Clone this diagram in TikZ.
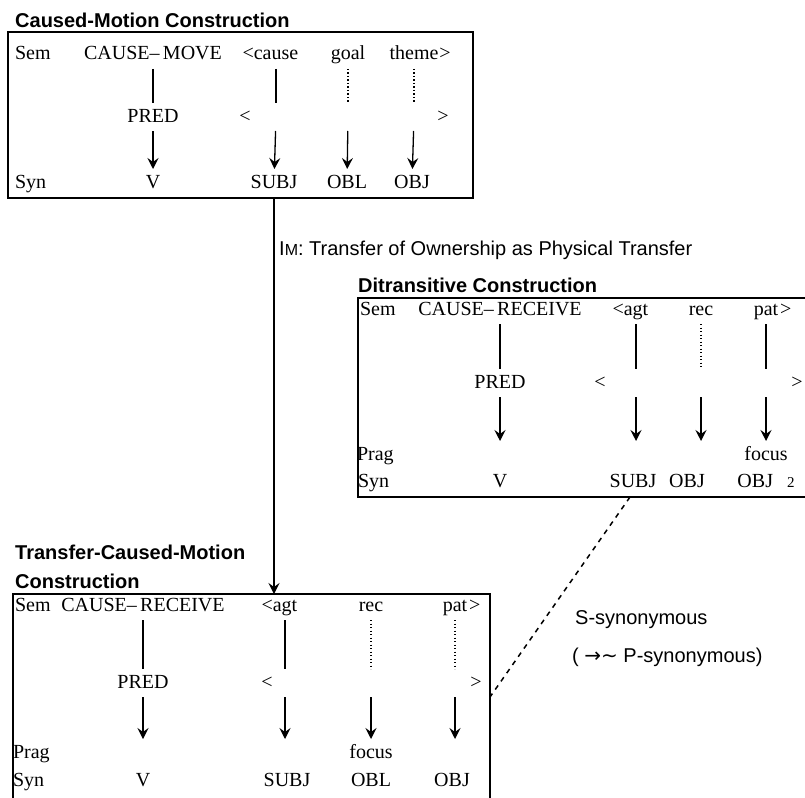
\documentclass[tikz,border=0pt]{standalone}
\usepackage{fontspec}
\setmainfont{Liberation Serif}
\setsansfont{Liberation Sans}
\newfontfamily\symfont{DejaVu Sans}
\usetikzlibrary{positioning, arrows.meta, calc}
\newcommand\rowsize{\fontsize{20}{24}\selectfont}
\newcommand\labsize{\fontsize{20}{24}\selectfont}
\tikzset{
  frame/.style={draw, line width=1.6pt, inner sep=0pt, outer sep=0pt, anchor=north west},
  cell/.style={font=\rowsize, inner sep=0pt, outer sep=5pt, text height=14pt, text depth=4pt},
  tag/.style={cell, anchor=west},
  title/.style={font=\labsize\sffamily\bfseries, inner sep=0pt, anchor=west},
  note/.style={font=\labsize\sffamily, inner sep=0pt, anchor=west},
  link/.style={line width=1.3pt},
  dotlink/.style={line width=1.3pt, dash pattern=on 1.3pt off 2.2pt},
  map/.style={line width=1.3pt, -{Stealth[length=11pt,width=11pt,inset=4pt]}},
  synlink/.style={line width=1.5pt, dash pattern=on 5pt off 5pt},
}
\begin{document}
\begin{tikzpicture}[x=1pt, y=-1pt]
\useasboundingbox (0,0) rectangle (805,797);
% Caused-Motion Construction
\node[title] (cm-title) at (15,20) {Caused-Motion Construction};
\node[frame, minimum width=465pt, minimum height=166pt] (cm) at (8,32) {};
\node[tag] (cm-sem) at (10,55) {Sem};
\node[cell] (cm-s0) at (153,55) {CAUSE–\,MOVE};
\node[cell] (cm-s1) at (276,55) {\llap{<}cause};
\node[cell] (cm-s2) at (348,55) {goal};
\node[cell] (cm-s3) at (414,55) {theme\rlap{\kern1pt>}};
\node[cell] (cm-p0) at (153,117) {PRED};
\node[cell] (cm-lt) at (245,117) {<};
\node[cell] (cm-gt) at (443,117) {>};
\foreach \i/\x in {1/276, 2/348, 3/414}
  \node[cell] (cm-p\i) at (\x,117) {};
\node[tag] (cm-syn) at (10,183) {Syn};
\node[cell] (cm-y0) at (153,183) {V};
\node[cell] (cm-y1) at (274,183) {SUBJ};
\node[cell] (cm-y2) at (347,183) {OBL};
\node[cell] (cm-y3) at (412,183) {OBJ};
\foreach \i in {0,1} \draw[link] (cm-s\i) -- (cm-p\i);
\foreach \i in {2,3} \draw[dotlink] (cm-s\i) -- (cm-p\i);
\foreach \i in {0,...,3} \draw[map] (cm-p\i) -- (cm-y\i);

% Ditransitive Construction
\node[note] (im) at (279,250) {I{\fontsize{16}{18}\selectfont M}: Transfer of Ownership as Physical Transfer};
\node[title] (dt-title) at (358,285) {Ditransitive Construction};
\node[frame, minimum width=470pt, minimum height=199pt] (dt) at (358,298) {};
\node[tag] (dt-sem) at (355,310) {Sem};
\node[cell] (dt-s0) at (500,310) {CAUSE–\,RECEIVE};
\node[cell] (dt-s1) at (636,310) {\llap{<}agt};
\node[cell] (dt-s2) at (701,310) {rec};
\node[cell] (dt-s3) at (766,310) {pat\rlap{\kern2pt>}};
\node[cell] (dt-p0) at (500,383) {PRED};
\node[cell] (dt-lt) at (600,383) {<};
\node[cell] (dt-gt) at (797,383) {>};
\foreach \i/\x in {1/636, 2/701, 3/766}
  \node[cell] (dt-p\i) at (\x,383) {};
\node[tag] (dt-prag) at (352,455) {Prag};
\foreach \i/\x in {0/500, 1/636, 2/701}
  \node[cell] (dt-g\i) at (\x,455) {};
\node[cell] (dt-g3) at (766,455) {focus};
\node[tag] (dt-syn) at (353,482) {Syn};
\node[cell] (dt-y0) at (500,482) {V};
\node[cell] (dt-y1) at (633,482) {SUBJ};
\node[cell] (dt-y2) at (687,482) {OBJ};
\node[cell] (dt-y3) at (766,482) {OBJ\hspace{14pt}{\fontsize{15}{18}\selectfont 2}};
\foreach \i in {0,1,3} \draw[link] (dt-s\i) -- (dt-p\i);
\draw[dotlink] (dt-s2) -- (dt-p2);
\foreach \i in {0,...,3} \draw[map] (dt-p\i) -- (dt-g\i);

% Transfer-Caused-Motion Construction
\node[title] (tc-title) at (15,552) {Transfer-Caused-Motion};
\node[title] (tc-title2) at (15,581) {Construction};
\node[frame, minimum width=477pt, minimum height=220pt] (tc) at (13,594) {};
\node[tag] (tc-sem) at (10,606) {Sem};
\node[cell] (tc-s0) at (143,606) {CAUSE–\,RECEIVE};
\node[cell] (tc-s1) at (285,606) {\llap{<}agt};
\node[cell] (tc-s2) at (371,606) {rec};
\node[cell] (tc-s3) at (455,606) {pat\rlap{\kern2pt>}};
\node[cell] (tc-p0) at (143,683) {PRED};
\node[cell] (tc-lt) at (267,683) {<};
\node[cell] (tc-gt) at (476,683) {>};
\foreach \i/\x in {1/285, 2/371, 3/455}
  \node[cell] (tc-p\i) at (\x,683) {};
\node[tag] (tc-prag) at (8,753) {Prag};
\foreach \i/\x in {0/143, 1/285, 3/455}
  \node[cell] (tc-g\i) at (\x,753) {};
\node[cell] (tc-g2) at (371,753) {focus};
\node[tag] (tc-syn) at (8,781) {Syn};
\node[cell] (tc-y0) at (143,781) {V};
\node[cell] (tc-y1) at (287,781) {SUBJ};
\node[cell] (tc-y2) at (371,781) {OBL};
\node[cell] (tc-y3) at (452,781) {OBJ};
\foreach \i in {0,1} \draw[link] (tc-s\i) -- (tc-p\i);
\foreach \i in {2,3} \draw[dotlink] (tc-s\i) -- (tc-p\i);
\foreach \i in {0,...,3} \draw[map] (tc-p\i) -- (tc-g\i);

% Inheritance links
\draw[map] (cm.south -| cm-y1) -- (tc.north -| cm-y1);
\coordinate (syn-top) at ($(dt.south west)+(272,0)$);
\coordinate (syn-bot) at ($(tc.north east)+(0,103)$);
\draw[synlink] (syn-top) -- (syn-bot);
\node[note] (ssyn) at (575,620) {S-synonymous};
\node[note] (psyn) at (572,657) {( {\symfont →∼} P-synonymous)};
\end{tikzpicture}
\end{document}
